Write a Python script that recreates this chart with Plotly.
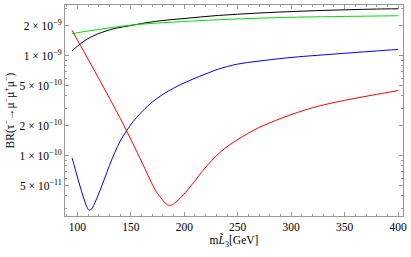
import plotly.graph_objects as go

# --- data ---
black_x = [95, 100, 106, 112, 119, 126, 134, 144, 154, 166, 180, 197, 215, 232, 250, 269, 288, 306, 330, 355, 380, 400]
black_y = [1.12e-9, 1.25e-9, 1.40e-9, 1.53e-9, 1.66e-9, 1.76e-9, 1.87e-9, 1.96e-9, 2.05e-9, 2.16e-9, 2.26e-9,
           2.35e-9, 2.45e-9, 2.54e-9, 2.61e-9, 2.68e-9, 2.74e-9, 2.79e-9, 2.85e-9, 2.90e-9, 2.94e-9, 2.96e-9]

green_x = [95, 105, 119, 135, 154, 175, 197, 232, 269, 306, 350, 400]
green_y = [1.67e-9, 1.74e-9, 1.83e-9, 1.94e-9, 2.05e-9, 2.13e-9, 2.20e-9, 2.30e-9, 2.38e-9, 2.44e-9, 2.48e-9, 2.52e-9]

blue_x = [95, 98, 101, 104, 107, 109, 111, 113, 115, 118, 121, 125, 130, 135, 140, 146, 152, 159, 167, 174,
          182, 190, 197, 206, 214, 223, 232, 250, 269, 287, 306, 330, 355, 380, 400]
blue_y = [9.53e-11, 7.33e-11, 5.62e-11, 4.37e-11, 3.47e-11, 3.05e-11, 2.86e-11, 2.92e-11, 3.16e-11, 3.72e-11,
          4.47e-11, 5.75e-11, 8.04e-11, 1.08e-10, 1.40e-10, 1.78e-10, 2.19e-10, 2.67e-10, 3.24e-10, 3.72e-10,
          4.25e-10, 4.75e-10, 5.19e-10, 5.73e-10, 6.22e-10, 6.79e-10, 7.38e-10, 8.28e-10, 8.85e-10, 9.33e-10,
          9.77e-10, 1.023e-9, 1.072e-9, 1.12e-9, 1.16e-9]

red_x = [95, 100, 106, 113, 120, 127, 134, 140, 146, 152, 158, 163, 168, 173, 177, 181, 184, 186, 189, 193,
         198, 204, 210, 216, 222, 229, 238, 248, 258, 269, 280, 291, 306, 325, 350, 375, 400]
red_y = [1.80e-9, 1.44e-9, 1.107e-9, 8.11e-10, 5.93e-10, 4.33e-10, 3.14e-10, 2.38e-10, 1.78e-10, 1.32e-10,
         9.73e-11, 7.50e-11, 5.75e-11, 4.52e-11, 3.94e-11, 3.47e-11, 3.25e-11, 3.19e-11, 3.25e-11, 3.51e-11,
         3.95e-11, 4.68e-11, 5.62e-11, 6.84e-11, 8.13e-11, 9.77e-11, 1.19e-10, 1.41e-10, 1.64e-10, 1.90e-10,
         2.14e-10, 2.38e-10, 2.72e-10, 3.13e-10, 3.59e-10, 4.03e-10, 4.49e-10]

x_ticks = [100, 150, 200, 250, 300, 350, 400]
y_ticks = [5e-11, 1e-10, 2e-10, 5e-10, 1e-9, 2e-9]
y_tick_text = ["5 × 10<sup>−11</sup>", "1 × 10<sup>−10</sup>", "2 × 10<sup>−10</sup>",
               "5 × 10<sup>−10</sup>", "1 × 10<sup>−9</sup>", "2 × 10<sup>−9</sup>"]
y_minor = [3e-11, 4e-11, 6e-11, 7e-11, 8e-11, 9e-11, 3e-10, 4e-10, 6e-10, 7e-10, 8e-10, 9e-10, 3e-9]
x_minor = [90] + [v for v in range(110, 401, 10) if v % 50 != 0]

fig = go.Figure()
for xs, ys, col in [(black_x, black_y, "black"), (green_x, green_y, "#00e000"),
                    (blue_x, blue_y, "#0000ff"), (red_x, red_y, "#ff0000")]:
    fig.add_trace(go.Scatter(x=xs, y=ys, mode="lines", line=dict(color=col, width=1, shape="spline", smoothing=1),
                             showlegend=False, hoverinfo="skip"))

font = dict(family="Liberation Serif, Times New Roman, serif", size=11.5, color="black")
axis_common = dict(showline=True, linecolor="#999999", linewidth=1, mirror="ticks", ticks="inside",
                   tickcolor="#999999", showgrid=False, zeroline=False, tickfont=font,
                   ticklabeloverflow="allow")

fig.update_xaxes(range=[88.4, 404.6], tickvals=x_ticks, ticklen=4,
                 minor=dict(tickvals=x_minor, ticks="inside", ticklen=2, tickcolor="#999999"),
                 title=dict(text="m<i>L̃</i><sub>3</sub>[GeV]", font=font, standoff=4), **axis_common)
fig.update_yaxes(type="log", range=[-10.602, -8.491], tickvals=y_ticks, ticktext=y_tick_text, ticklen=4,
                 minor=dict(tickvals=y_minor, ticks="inside", ticklen=2, tickcolor="#999999"),
                 title=dict(text="BR(τ<sup>−</sup>→μ<sup>−</sup>μ<sup>+</sup>μ<sup>−</sup>)", font=font, standoff=2),
                 **axis_common)

fig.update_layout(width=411, height=257, margin=dict(l=65, r=4, t=4, b=41),
                  paper_bgcolor="white", plot_bgcolor="white", font=font)
fig.write_html("out.html", config={"displayModeBar": False},
               post_script="document.body.style.margin='0';")
